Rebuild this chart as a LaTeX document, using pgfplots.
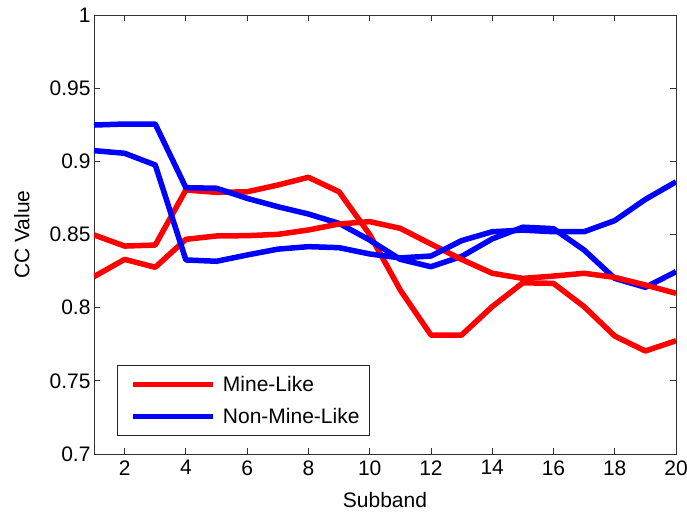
\documentclass[border=0pt]{standalone}
\usepackage{pgfplots}
\pgfplotsset{compat=1.18}
\usepackage{fontspec}
\setmainfont{Liberation Sans}

% Correlation coefficient per subband, two curves for each class
\pgfplotstableread{
x   mA      mB      nA      nB
1   0.8497  0.8212  0.9248  0.9073
2   0.8421  0.8330  0.9255  0.9055
3   0.8428  0.8276  0.9255  0.8975
4   0.8804  0.8467  0.8820  0.8326
5   0.8788  0.8490  0.8816  0.8317
6   0.8792  0.8492  0.8747  0.8360
7   0.8838  0.8501  0.8690  0.8400
8   0.8891  0.8531  0.8640  0.8417
9   0.8792  0.8572  0.8576  0.8410
10  0.8500  0.8588  0.8462  0.8367
11  0.8120  0.8542  0.8330  0.8340
12  0.7813  0.8435  0.8280  0.8353
13  0.7813  0.8330  0.8350  0.8458
14  0.8007  0.8235  0.8470  0.8519
15  0.8170  0.8200  0.8550  0.8530
16  0.8166  0.8216  0.8540  0.8519
17  0.8007  0.8235  0.8394  0.8519
18  0.7806  0.8207  0.8200  0.8595
19  0.7704  0.8155  0.8139  0.8740
20  0.7774  0.8098  0.8246  0.8860
}\cc

\begin{document}
\begin{tikzpicture}
\begin{axis}[
  scale only axis,
  width=582pt, height=439pt,
  xmin=1, xmax=20, ymin=0.7, ymax=1,
  xtick={2,4,...,20},
  ytick={0.7,0.75,...,1.0},
  yticklabels={0.7,0.75,0.8,0.85,0.9,0.95,1},
  tick align=inside,
  major tick length=6pt,
  axis line style={black!80, line width=0.9pt},
  tick style={black!80, line width=0.9pt},
  font=\fontsize{21}{25}\selectfont,
  /pgf/number format/assume math mode=true,
  yticklabel style={xshift=0pt},
  xticklabel style={yshift=-3pt},
  xlabel={Subband},
  ylabel={CC Value},
  xlabel style={at={(axis description cs:0.5,-0.105)}, anchor=center},
  ylabel style={at={(axis description cs:-0.124,0.5)}, anchor=center, rotate=0},
  legend style={at={(axis description cs:0.04,0.041)}, anchor=south west,
    draw=black!85, line width=0.9pt, inner xsep=7pt, inner ysep=8pt,
    row sep=9pt, nodes={inner sep=3pt},
    font=\fontsize{21}{25}\selectfont,
    /tikz/every odd column/.style={column sep=4pt}},
  legend cell align=left,
  legend image code/.code={\path (0pt,0pt); \draw[#1, line width=5pt] (6pt,0pt) -- (86pt,0pt);},
  every axis plot/.append style={line width=5.5pt, line join=round},
]
\addplot[red, no markers] table[x=x, y=mA] {\cc};
\addlegendentry{Mine-Like}
\addplot[blue, no markers] table[x=x, y=nA] {\cc};
\addlegendentry{Non-Mine-Like}
\addplot[red, no markers, forget plot] table[x=x, y=mB] {\cc};
\addplot[blue, no markers, forget plot] table[x=x, y=nB] {\cc};
\end{axis}
\pgfresetboundingbox
\path (-94pt,-60pt) rectangle (593pt,454pt);
\end{tikzpicture}
\end{document}
